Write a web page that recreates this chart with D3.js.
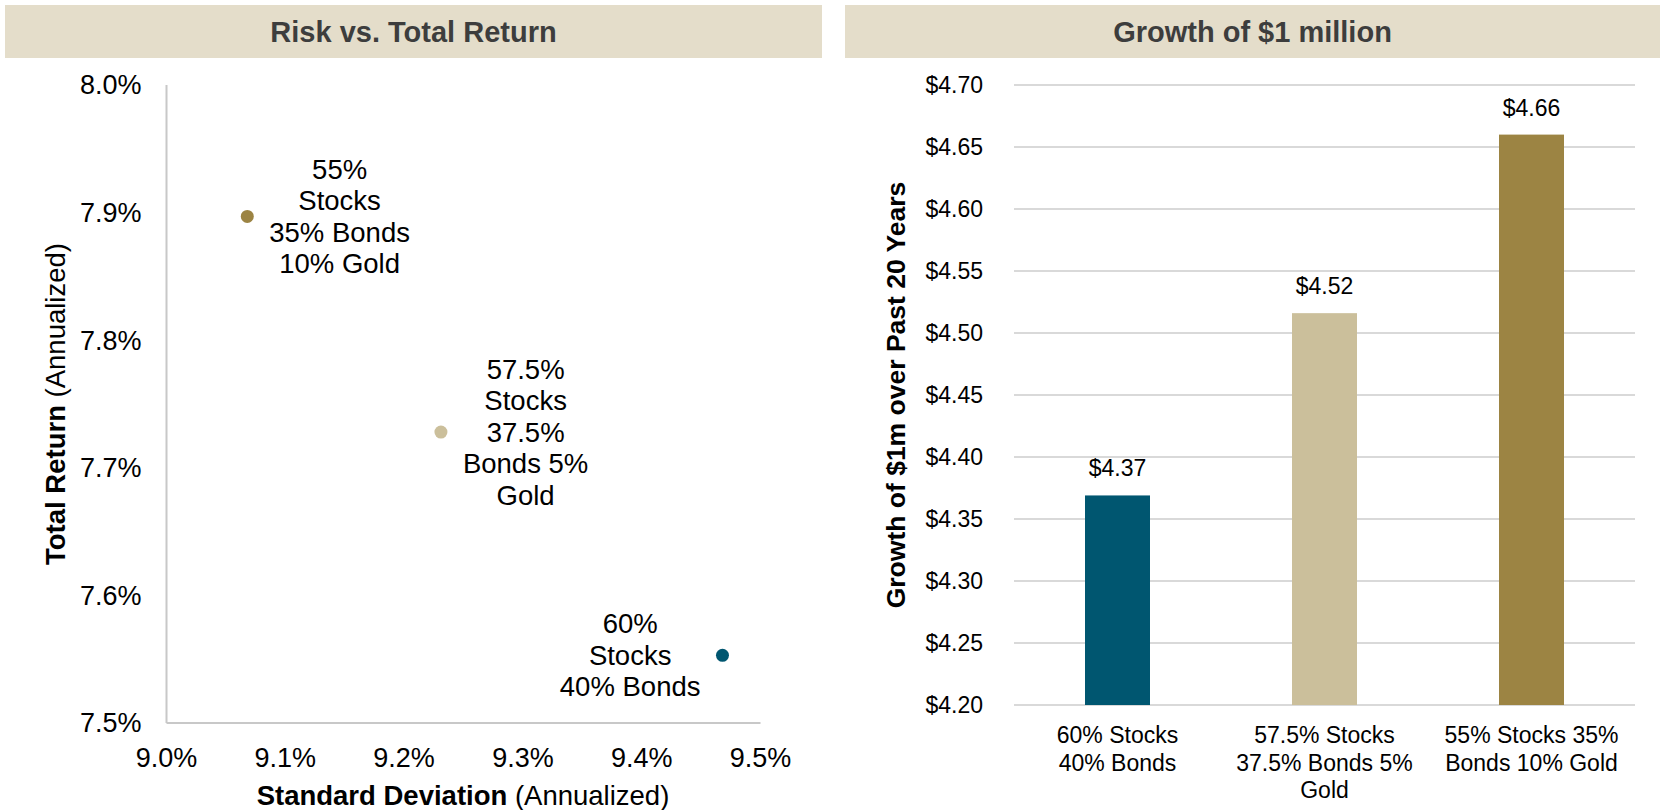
<!DOCTYPE html>
<html>
<head>
<meta charset="utf-8">
<script src="https://cdn.jsdelivr.net/npm/d3@7"></script>
<style>
  body { margin: 0; background: #ffffff; }
  svg text { font-family: "Liberation Sans", Arial, sans-serif; }
</style>
</head>
<body>
<div id="chart"></div>
<script>

// scatter data: risk vs return of the three portfolios
var scatterLabels = [
  ["55%", "Stocks", "35% Bonds", "10% Gold"],
  ["57.5%", "Stocks", "37.5%", "Bonds 5%", "Gold"],
  ["60%", "Stocks", "40% Bonds"]
];
var scatterRisk = [9.068, 9.231, 9.468];
var scatterReturn = [7.897, 7.728, 7.553];

// bar data: growth of $1 million
var barCategories = [
  ["60% Stocks", "40% Bonds"],
  ["57.5% Stocks", "37.5% Bonds 5%", "Gold"],
  ["55% Stocks 35%", "Bonds 10% Gold"]
];
var barValues = [4.369, 4.516, 4.660];

// titles
var panelTitles = ["Risk vs. Total Return", "Growth of $1 million"];

// colours
var scatterColors = ["#9c8443", "#cbbf9b", "#005670"];
var barColors = ["#005670", "#cbbf9b", "#9c8443"];
var headerColor = "#e4ddca";

window.onload = function() {
  main();
};

function main() {
  var svg = d3.select("#chart")
    .append("svg")
    .attr("width", 1663)
    .attr("height", 810);

  drawHeaders(svg);
  drawScatter(svg);
  drawBars(svg);
}

function drawHeaders(svg) {
  // beige bands on top of both panels
  var bands = [{x: 5, w: 817}, {x: 845, w: 815}];

  bands.forEach(function(b, i) {
    svg.append("rect")
      .attr("x", b.x)
      .attr("y", 5)
      .attr("width", b.w)
      .attr("height", 53)
      .attr("fill", headerColor);

    svg.append("text")
      .attr("x", b.x + b.w / 2)
      .attr("y", 32)
      .attr("dy", "0.35em")
      .style("text-anchor", "middle")
      .style("font-weight", "bold")
      .style("font-size", "29px")
      .attr("fill", "#3d3d3d")
      .text(panelTitles[i]);
  });
}

function drawScatter(svg) {
  var x = d3.scaleLinear().domain([9.0, 9.5]).range([166.5, 760.5]);
  var y = d3.scaleLinear().domain([7.5, 8.0]).range([723, 85]);
  var g = svg.append("g");

  // axes lines
  g.append("line")
    .attr("x1", x(9.0)).attr("x2", x(9.0))
    .attr("y1", y(8.0)).attr("y2", y(7.5))
    .attr("stroke", "#c8c8c8").attr("stroke-width", 2);
  g.append("line")
    .attr("x1", x(9.0)).attr("x2", x(9.5))
    .attr("y1", y(7.5)).attr("y2", y(7.5))
    .attr("stroke", "#c8c8c8").attr("stroke-width", 2);

  // tick labels
  g.selectAll(".ytick")
    .data(y.ticks(5))
    .enter().append("text")
    .attr("x", x(9.0) - 25)
    .attr("y", function(d) { return y(d); })
    .attr("dy", "0.35em")
    .style("text-anchor", "end")
    .style("font-size", "27px")
    .attr("fill", "#000")
    .text(function(d) { return d3.format(".1f")(d) + "%"; });

  g.selectAll(".xtick")
    .data(x.ticks(5))
    .enter().append("text")
    .attr("x", function(d) { return x(d); })
    .attr("y", 758)
    .attr("dy", "0.35em")
    .style("text-anchor", "middle")
    .style("font-size", "27px")
    .attr("fill", "#000")
    .text(function(d) { return d3.format(".1f")(d) + "%"; });

  // axis titles, bold part plus normal part
  var xTitle = g.append("text")
    .attr("x", 463)
    .attr("y", 795)
    .attr("dy", "0.35em")
    .style("text-anchor", "middle")
    .style("font-size", "27.5px")
    .attr("fill", "#000");
  xTitle.append("tspan").style("font-weight", "bold").text("Standard Deviation");
  xTitle.append("tspan").text(" (Annualized)");

  var yTitle = g.append("text")
    .attr("transform", "translate(55," + ((y(8.0) + y(7.5)) / 2) + ") rotate(-90)")
    .attr("dy", "0.35em")
    .style("text-anchor", "middle")
    .style("font-size", "27.5px")
    .attr("fill", "#000");
  yTitle.append("tspan").style("font-weight", "bold").text("Total Return");
  yTitle.append("tspan").text(" (Annualized)");

  // points
  g.selectAll(".dot")
    .data(scatterRisk)
    .enter().append("circle")
    .attr("cx", function(d) { return x(d); })
    .attr("cy", function(d, i) { return y(scatterReturn[i]); })
    .attr("r", 6.5)
    .attr("fill", function(d, i) { return scatterColors[i]; });

  // data labels, to the right of a point unless it sits near the right edge
  var lineHeight = 31.5;
  scatterRisk.forEach(function(risk, i) {
    var lines = scatterLabels[i];
    var label = g.append("text")
      .style("text-anchor", "middle")
      .style("font-size", "27.5px")
      .attr("fill", "#000");

    lines.forEach(function(line, j) {
      label.append("tspan")
        .attr("x", 0)
        .attr("y", (j - (lines.length - 1) / 2) * lineHeight)
        .attr("dy", "0.35em")
        .text(line);
    });

    var maxWidth = d3.max(label.selectAll("tspan").nodes(), function(n) {
      return n.getComputedTextLength();
    });
    var side = x(risk) > x(9.4) ? -1 : 1;
    var cx = x(risk) + side * (maxWidth / 2 + 22);
    label.attr("transform", "translate(" + cx + "," + y(scatterReturn[i]) + ")");
  });
}

function drawBars(svg) {
  var x = d3.scaleBand().domain(d3.range(barValues.length)).range([1014, 1635]).padding(0);
  var y = d3.scaleLinear().domain([4.2, 4.7]).range([705, 85]);
  var g = svg.append("g");
  var barWidth = x.bandwidth() * 0.314;
  var money = function(d) { return "$" + d3.format(".2f")(d); };

  // gridlines
  g.selectAll(".grid")
    .data(y.ticks(10))
    .enter().append("line")
    .attr("x1", 1014).attr("x2", 1635)
    .attr("y1", function(d) { return y(d); })
    .attr("y2", function(d) { return y(d); })
    .attr("stroke", "#d9d9d9")
    .attr("stroke-width", 2);

  // y tick labels
  g.selectAll(".ytick")
    .data(y.ticks(10))
    .enter().append("text")
    .attr("x", 983)
    .attr("y", function(d) { return y(d); })
    .attr("dy", "0.35em")
    .style("text-anchor", "end")
    .style("font-size", "23px")
    .attr("fill", "#000")
    .text(money);

  // bars
  g.selectAll(".bar")
    .data(barValues)
    .enter().append("rect")
    .attr("x", function(d, i) { return x(i) + (x.bandwidth() - barWidth) / 2; })
    .attr("y", function(d) { return y(d); })
    .attr("width", barWidth)
    .attr("height", function(d) { return y(4.2) - y(d); })
    .attr("fill", function(d, i) { return barColors[i]; });

  // value labels
  g.selectAll(".value")
    .data(barValues)
    .enter().append("text")
    .attr("x", function(d, i) { return x(i) + x.bandwidth() / 2; })
    .attr("y", function(d) { return y(d) - 27; })
    .attr("dy", "0.35em")
    .style("text-anchor", "middle")
    .style("font-size", "23px")
    .attr("fill", "#000")
    .text(money);

  // category labels, wrapped like the original
  barCategories.forEach(function(lines, i) {
    var label = g.append("text")
      .style("text-anchor", "middle")
      .style("font-size", "23px")
      .attr("fill", "#000");
    lines.forEach(function(line, j) {
      label.append("tspan")
        .attr("x", x(i) + x.bandwidth() / 2)
        .attr("y", 735 + j * 27.5)
        .attr("dy", "0.35em")
        .text(line);
    });
  });

  // y axis title
  g.append("text")
    .attr("transform", "translate(896," + ((y(4.2) + y(4.7)) / 2) + ") rotate(-90)")
    .attr("dy", "0.35em")
    .style("text-anchor", "middle")
    .style("font-weight", "bold")
    .style("font-size", "26.5px")
    .attr("fill", "#000")
    .text("Growth of $1m over Past 20 Years");
}
</script>
</body>
</html>
